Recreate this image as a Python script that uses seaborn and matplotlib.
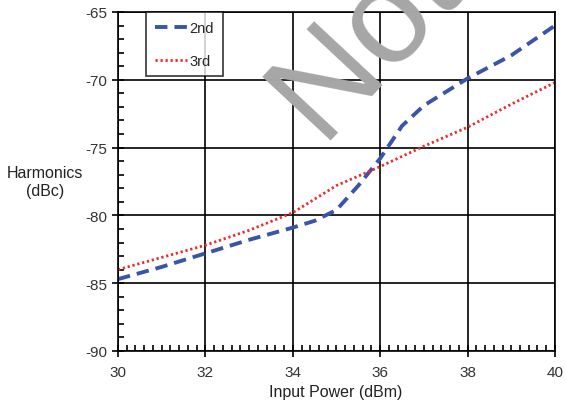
import numpy as np
import pandas as pd
import matplotlib
matplotlib.use("Agg")
import matplotlib.pyplot as plt
import seaborn as sns
from matplotlib.ticker import MultipleLocator

# data
power_2nd = [30, 31, 32, 33, 34, 34.5, 35, 35.5, 36, 36.5, 37, 37.5, 38, 39, 40]
harm_2nd = [-84.7, -83.8, -82.8, -81.8, -80.9, -80.4, -79.6, -77.8, -75.8, -73.4, -71.9, -70.9, -69.9, -68.2, -66.0]
power_3rd = [30, 31, 32, 33, 34, 35, 36, 37, 38, 39, 40]
harm_3rd = [-84.0, -83.1, -82.2, -81.1, -79.8, -77.8, -76.4, -74.9, -73.5, -71.8, -70.2]

df2 = pd.DataFrame({"power": power_2nd, "harm": harm_2nd})
df3 = pd.DataFrame({"power": power_3rd, "harm": harm_3rd})

sns.set_style("white")
plt.rcParams['font.family'] = ['Liberation Sans', 'DejaVu Sans']

fig = plt.figure(figsize=(5.66, 4.02), dpi=100)
ax = fig.add_axes([0.2085, 0.1244, 0.772, 0.8433])

sns.lineplot(data=df2, x="power", y="harm", ax=ax, color="#3a55a8", lw=2.8,
             linestyle=(0, (3.2, 1.8)), label="2nd")
sns.lineplot(data=df3, x="power", y="harm", ax=ax, color="#ee2a2a", lw=2.0,
             linestyle=(0, (0.8, 1.0)), label="3rd")

ax.set_xlim(30, 40)
ax.set_ylim(-90, -65)
ax.xaxis.set_major_locator(MultipleLocator(2))
ax.xaxis.set_minor_locator(MultipleLocator(0.2))
ax.yaxis.set_major_locator(MultipleLocator(5))
ax.yaxis.set_minor_locator(MultipleLocator(1))
ax.grid(True, which="major", color="black", lw=1.2)
for s in ax.spines.values():
    s.set_color("black")
    s.set_linewidth(1.2)
ax.tick_params(axis="both", which="major", direction="inout", length=8, width=1.2,
               labelsize=11, colors="black", labelcolor="#333333")
ax.tick_params(axis="x", which="major", pad=6)
ax.tick_params(axis="y", which="major", pad=4)
ax.tick_params(axis="both", which="minor", direction="in", length=4, width=1.2, colors="black")
ax.tick_params(axis="x", which="both", bottom=True)
ax.tick_params(axis="y", which="both", left=True)
ax.set_yticks([-90, -85, -80, -75, -70, -65])
ax.set_yticklabels(["-90", "-85", "-80", "-75", "-70", "-65"])

ax.set_xlabel("Input Power (dBm)", fontsize=11.5, color="#222222", va="center")
ax.xaxis.set_label_coords(0.499, -0.12)
ax.set_ylabel("Harmonics\n(dBc)", fontsize=11.5, color="#222222", rotation=0,
              linespacing=1.3, ha="center", va="center")
ax.yaxis.set_label_coords(-0.167, 0.5)

leg = ax.legend(loc="upper left", bbox_to_anchor=(0.064, 1.0), borderaxespad=0,
                frameon=True, fancybox=False, edgecolor="black", fontsize=10.5,
                handlelength=2.2, labelspacing=1.3, borderpad=0.6, handletextpad=0.2)
leg.get_frame().set_linewidth(1.2)

# watermark
fig.text(320 / 566, 1 - 140 / 402, "Not", fontsize=98, color="#a6a6a6", rotation=47,
         ha="left", va="baseline", rotation_mode="anchor", zorder=10)

fig.savefig("out.png", dpi=100)
